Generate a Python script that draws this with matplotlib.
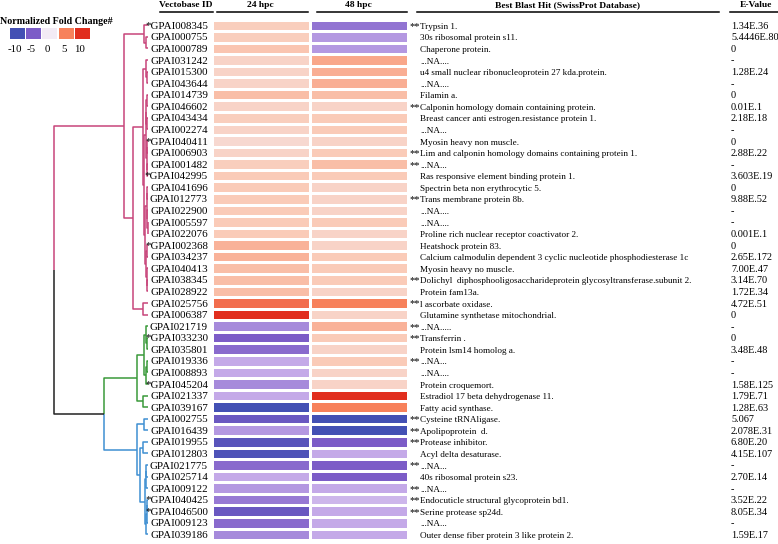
import numpy as np
import matplotlib
matplotlib.use("Agg")
import matplotlib.pyplot as plt
from matplotlib.colors import LinearSegmentedColormap, Normalize
from matplotlib.patches import Rectangle

# ---------------- data ----------------
gene_ids = ["*GPAI008345", "GPAI000755", "GPAI000789", "GPAI031242", "GPAI015300",
            "GPAI043644", "GPAI014739", "GPAI046602", "GPAI043434", "GPAI002274",
            "*GPAI040411", "GPAI006903", "GPAI001482", "*GPAI042995", "GPAI041696",
            "GPAI012773", "GPAI022900", "GPAI005597", "GPAI022076", "*GPAI002368",
            "GPAI034237", "GPAI040413", "GPAI038345", "GPAI028922", "GPAI025756",
            "GPAI006387", "GPAI021719", "*GPAI033230", "GPAI035801", "GPAI019336",
            "GPAI008893", "*GPAI045204", "GPAI021337", "GPAI039167", "GPAI002755",
            "GPAI016439", "GPAI019955", "GPAI012803", "GPAI021775", "GPAI025714",
            "GPAI009122", "*GPAI040425", "*GPAI046500", "GPAI009123", "GPAI039186"]

fc_24hpc = [1.8, 1.8, 2.2, 1.5, 1.5, 1.5, 2.5, 1.5, 1.8, 1.5,
            1.2, 1.5, 1.8, 2.0, 2.0, 2.0, 2.0, 2.0, 2.0, 3.0,
            3.0, 2.5, 2.5, 2.5, 6.2, 10.0, -3.5, -5.0, -4.5, -2.5,
            -2.5, -3.5, -2.5, -10.0, -6.5, -3.0, -8.0, -9.0, -4.5, -2.5,
            -3.0, -4.0, -6.5, -4.5, -3.5]

fc_48hpc = [-4.2, -3.0, -3.0, 3.5, 3.2, 3.2, 2.5, 1.5, 2.0, 2.0,
            1.5, 2.0, 2.5, 2.0, 1.5, 1.5, 1.5, 2.0, 1.5, 1.5,
            2.0, 2.0, 2.0, 1.5, 5.0, 1.5, 3.0, 2.0, 1.5, 2.0,
            1.5, 1.5, 10.0, 5.0, -10.0, -10.0, -5.0, -2.5, -5.0, -5.0,
            -2.5, -2.0, -2.5, -2.5, -2.5]

hit_star = [True, False, False, False, False, False, False, True, False, False,
            False, True, True, False, False, True, False, False, False, False,
            False, False, True, False, True, False, True, True, False, True,
            False, False, False, False, True, True, True, False, True, False,
            True, True, True, False, False]

hit_names = ["Trypsin 1.", "30s ribosomal protein s11.", "Chaperone protein.", "...NA....",
             "u4 small nuclear ribonucleoprotein 27 kda.protein.", "...NA....", "Filamin a.",
             "Calponin homology domain containing protein.",
             "Breast cancer anti estrogen.resistance protein 1.", "...NA...",
             "Myosin heavy non muscle.", "Lim and calponin homology domains containing protein 1.",
             "...NA...", "Ras responsive element binding protein 1.",
             "Spectrin beta non erythrocytic 5.", "Trans membrane protein 8b.", "...NA....",
             "...NA....", "Proline rich nuclear receptor coactivator 2.", "Heatshock protein 83.",
             "Calcium calmodulin dependent 3 cyclic nucleotide phosphodiesterase 1c",
             "Myosin heavy no muscle.",
             "Dolichyl  diphosphooligosaccharideprotein glycosyltransferase.subunit 2.",
             "Protein fam13a.", "l ascorbate oxidase.", "Glutamine synthetase mitochondrial.",
             "...NA.....", "Transferrin .", "Protein lsm14 homolog a.", "...NA...", "...NA....",
             "Protein croquemort.", "Estradiol 17 beta dehydrogenase 11.", "Fatty acid synthase.",
             "Cysteine tRNAligase.", "Apolipoprotein  d.", "Protease inhibitor.",
             "Acyl delta desaturase.", "...NA...", "40s ribosomal protein s23.", "...NA...",
             "Endocuticle structural glycoprotein bd1.", "Serine protease sp24d.", "...NA...",
             "Outer dense fiber protein 3 like protein 2."]

e_values = ["1.34E.36", "5.4446E.80", "0", "-", "1.28E.24", "-", "0", "0.01E.1", "2.18E.18", "-",
            "0", "2.88E.22", "-", "3.603E.19", "0", "9.88E.52", "-", "-", "0.001E.1", "0",
            "2.65E.172", "7.00E.47", "3.14E.70", "1.72E.34", "4.72E.51", "0", "-", "0", "3.48E.48", "-",
            "-", "1.58E.125", "1.79E.71", "1.28E.63", "5.067", "2.078E.31", "6.80E.20", "4.15E.107", "-",
            "2.70E.14", "-", "3.52E.22", "8.05E.34", "-", "1.59E.17"]

headers = ["Vectobase ID", "24 hpc", "48 hpc", "Best Blast Hit (SwissProt Database)", "E-Value"]
legend_title = "Normalized Fold Change#"
legend_values = [-10, -5, 0, 5, 10]

# dendrogram: (left, right, height[, colour]) ; leaves are row indices
PINK, GREEN, BLUE, BLACK = "#c8457a", "#3a9a3a", "#3f8fd2", "#222222"
r1_3 = (0, (1, 2, 0.2), 0.4)
grp_a = (3, (4, 5, 0.1), 0.2)
b1 = ((6, 7, 0.08), (8, 9, 0.06), 0.15)
b2 = ((10, 11, 0.05), (12, 13, 0.07), 0.12)
b3 = ((14, 15, 0.06), (16, (17, 18, 0.04), 0.08), 0.14)
b4 = ((19, 20, 0.1), (21, (22, 23, 0.05), 0.09), 0.2)
grp_b = ((b1, b2, 0.22), (b3, b4, 0.25), 0.35)
p_sub = ((grp_a, grp_b, 0.45), (24, 25, 0.5), 1.5)
pink = (r1_3, p_sub, 2.4, PINK)
green = (((26, (27, 28, 0.1), 0.2), ((29, 30, 0.08), 31, 0.15), 0.4), (32, 33, 0.5), 1.1, GREEN)
blue_c = (((38, 39, 0.15), 40, 0.2), (((41, 42, 0.08), 43, 0.12), 44, 0.18), 0.28)
blue = ((34, 35, 0.4), ((36, 37, 0.5), blue_c, 0.8), 1.1, BLUE)
gb = (green, blue, 4.4, BLACK)
tree = (pink, gb, 9.4, BLACK)

# ---------------- layout ----------------
W, H = 778, 544
TOP, ROWH = 19.5, 11.57
LEAF_X, DSCALE = 148.0, 10.0
COL_X = [212, 310, 408]
n = len(gene_ids)
yc = TOP + (np.arange(n) + 0.5) * ROWH
BASE = 3.6  # baseline offset below row centre (px)

cmap = LinearSegmentedColormap.from_list(
    "fc", [(0.0, "#4350b4"), (0.25, "#7b5bc7"), (0.375, "#c3a8e8"), (0.5, "#f3ecf6"),
           (0.6, "#facbb8"), (0.75, "#f7825c"), (1.0, "#e12e1e")])
norm = Normalize(-10, 10)

plt.rcParams["font.family"] = ["Liberation Serif", "DejaVu Serif"]

fig = plt.figure(figsize=(W / 100, H / 100), dpi=100)
ax = fig.add_axes([0, 0, 1, 1])
ax.set_xlim(0, W)
ax.set_ylim(H, 0)
ax.axis("off")

# heatmap
vals = np.column_stack([fc_24hpc, fc_48hpc])
yedges = TOP + np.arange(n + 1) * ROWH
ax.pcolormesh(COL_X, yedges, vals, cmap=cmap, norm=norm, edgecolors="white", linewidth=0.9)

# dendrogram
def xpos(h):
    return LEAF_X - DSCALE * h

def draw(node, color):
    if isinstance(node, int):
        return yc[node], 0.0
    left, right, h = node[0], node[1], node[2]
    res = []
    for child in (left, right):
        cc = child[3] if (not isinstance(child, int) and len(child) > 3) else color
        y, hc = draw(child, cc)
        res.append((y, hc, cc))
    ymid = (res[0][0] + res[1][0]) / 2
    x = xpos(h)
    for y, hc, cc in res:
        ax.plot([xpos(hc), x, x], [y, y, ymid], color=cc, lw=1.1, solid_capstyle="butt")
    return ymid, h

draw(tree, BLACK)

# row texts
FS_ID, FS_HIT, FS_E = 7.9, 6.6, 7.4
for i in range(n):
    yb = yc[i] + BASE
    ax.text(208, yb, gene_ids[i], ha="right", va="baseline", fontsize=FS_ID)
    if hit_star[i]:
        ax.text(420, yb, "**", ha="right", va="baseline", fontsize=7.6)
    ax.text(420, yb, hit_names[i], ha="left", va="baseline", fontsize=FS_HIT)
    ax.text(731, yb, e_values[i], ha="left", va="baseline", fontsize=FS_E)

# headers
head_x = [186, 260, 358, 568, 756]
head_lines = [(160, 213), (217, 308), (317, 407), (417, 719), (730, 778)]
for t, x, (a, b) in zip(headers, head_x, head_lines):
    ax.text(x, 5, t, ha="center", va="center", fontsize=6.8, fontweight="bold")
    ax.plot([a, b], [12, 12], color="black", lw=1.1)

# legend
ax.text(0, 21, legend_title, ha="left", va="center", fontsize=7.2, fontweight="bold")
box_x = [10, 26, 42.5, 59, 75]
for v, bx in zip(legend_values, box_x):
    ax.add_patch(Rectangle((bx, 28), 15, 11, facecolor=cmap(norm(v)), edgecolor="none"))
    ax.text(bx + 5, 50, f"{v}", ha="center", va="center", fontsize=7.8)

fig.savefig("out.png", dpi=100)
